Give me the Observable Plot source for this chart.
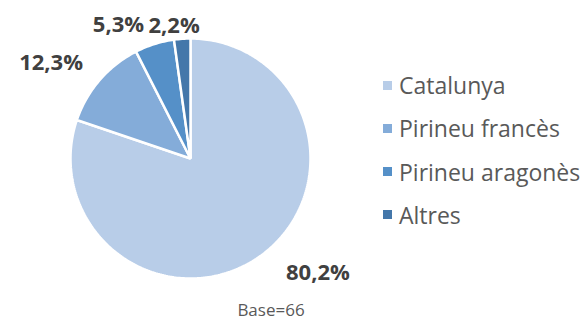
<!DOCTYPE html>
<html>
<head>
<meta charset="utf-8">
<script src="https://cdn.jsdelivr.net/npm/d3@7"></script>
<script src="https://cdn.jsdelivr.net/npm/@observablehq/plot@0.6"></script>
<style>
  html, body { margin: 0; padding: 0; background: #fff; }
  #wrap { position: relative; width: 588px; height: 322px; overflow: hidden; font-family: "Open Sans", sans-serif; }
  #chart { position: absolute; left: 0; top: 0; }
  .lg-row { position: absolute; left: 383px; height: 30px; display: flex; align-items: center; font-size: 23px; color: #595959; white-space: nowrap; }
  .lg-sw { width: 9px; height: 9px; margin-right: 7px; flex: none; }
  #caption { position: absolute; left: 0; width: 542px; top: 300px; text-align: center; font-size: 17px; line-height: 20px; color: #595959; }
</style>
</head>
<body>
<div id="wrap">
  <div id="chart"></div>
  <div id="legend"></div>
  <div id="caption"></div>
</div>
<script>
// ---- data ----
const categories = ["Catalunya", "Pirineu francès", "Pirineu aragonès", "Altres"];
const values = [80.2, 12.3, 5.3, 2.2];
const labels = ["80,2%", "12,3%", "5,3%", "2,2%"];
const caption = "Base=66";

// ---- styling / layout (not data) ----
const colors = ["#b8cde8", "#84acd9", "#5590c8", "#4477aa"];
const labelRadius = 1.25;
const labelNudgePx = [[40, -7], [-26, 3], [-27, 10], [-6, 17]]; // pixel offsets from mid-angle anchor
const W = 588, H = 322, R = 120, CX = 190, CY = 158;

// ---- build slice polygons (angles clockwise from 12 o'clock) ----
const pie = d3.pie().sort(null).value(d => d.value)(categories.map((c, i) => ({cat: c, value: values[i], label: labels[i]})));
const slicePts = [];
for (const s of pie) {
  const steps = Math.max(4, Math.ceil((s.endAngle - s.startAngle) / (Math.PI / 180)));
  slicePts.push({cat: s.data.cat, x: 0, y: 0});
  for (let k = 0; k <= steps; k++) {
    const a = s.startAngle + (s.endAngle - s.startAngle) * k / steps;
    slicePts.push({cat: s.data.cat, x: Math.sin(a), y: Math.cos(a)});
  }
}
const labelPts = pie.map((s, i) => {
  const m = (s.startAngle + s.endAngle) / 2;
  return {
    label: s.data.label,
    x: Math.sin(m) * labelRadius + labelNudgePx[i][0] / R,
    y: Math.cos(m) * labelRadius - labelNudgePx[i][1] / R
  };
});

const chart = Plot.plot({
  width: W,
  height: H,
  marginLeft: CX - R,
  marginRight: W - (CX + R),
  marginTop: CY - R,
  marginBottom: H - (CY + R),
  x: {domain: [-1, 1], axis: null},
  y: {domain: [-1, 1], axis: null},
  color: {domain: categories, range: colors},
  style: {fontFamily: "Open Sans, sans-serif", background: "transparent", overflow: "visible"},
  marks: [
    Plot.line(slicePts, {x: "x", y: "y", z: "cat", fill: "cat", stroke: "white", strokeWidth: 2.5, curve: "linear-closed", strokeLinejoin: "miter"}),
    Plot.text(labelPts, {x: "x", y: "y", text: "label", fontSize: 22, fontWeight: 700, fill: "#404040"})
  ]
});
document.getElementById("chart").appendChild(chart);

// ---- legend ----
const legend = d3.select("#legend");
categories.forEach((c, i) => {
  const row = legend.append("div").attr("class", "lg-row").style("top", (85 + i * 43.3 - 15) + "px");
  row.append("div").attr("class", "lg-sw").style("background", colors[i]);
  row.append("span").text(c);
});
document.getElementById("caption").textContent = caption;
</script>
</body>
</html>
